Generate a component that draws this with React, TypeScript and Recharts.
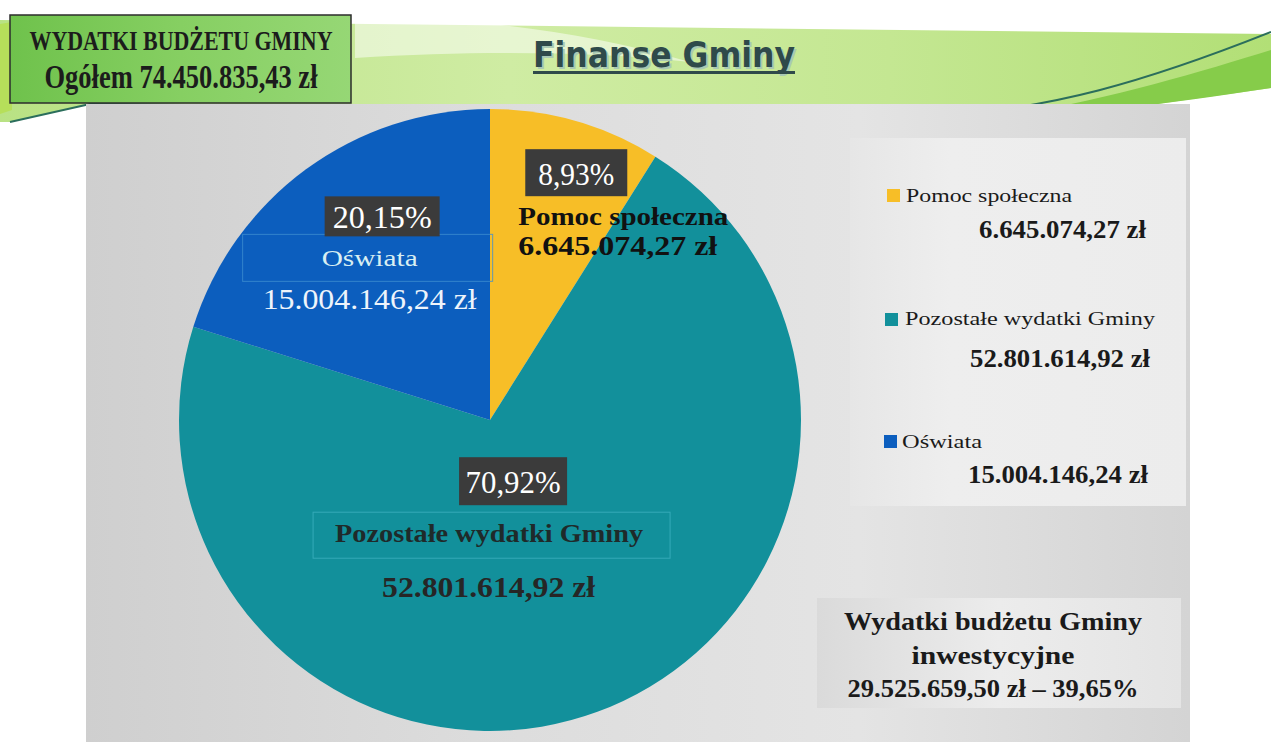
import React from 'react';
import { PieChart, Pie, Cell, Legend } from 'recharts';

const categories = ['Pomoc społeczna', 'Pozostałe wydatki Gminy', 'Oświata'];
const amounts = [6645074.27, 52801614.92, 15004146.24];
const amountLabels = ['6.645.074,27 zł', '52.801.614,92 zł', '15.004.146,24 zł'];
const percentLabels = ['8,93%', '70,92%', '20,15%'];
const sliceColors = ['#F7BE27', '#12909B', '#0C5EBE'];

const titleLine1 = 'WYDATKI BUDŻETU GMINY';
const titleLine2 = 'Ogółem 74.450.835,43 zł';
const headerText = 'Finanse Gminy';
const investLines = ['Wydatki budżetu Gminy', 'inwestycyjne', '29.525.659,50 zł – 39,65%'];

const W = 1271;
const H = 754;
const SERIF = "'Liberation Serif', 'DejaVu Serif', serif";
const SANS = "'DejaVu Sans', 'Liberation Sans', sans-serif";

const data = categories.map((name, i) => ({ name, value: amounts[i] }));

// label layout: anchor (percentage box centre) as fraction of the radius, then offsets in px
const LABEL_LAYOUT = [
  {
    ax: 0.2774, ay: -0.7952, boxW: 102, boxH: 47, pctBase: 12.5, pctLen: 76, pctSize: 32,
    outline: null,
    nameAnchor: 'start', nameX: -58, nameY: 52, nameLen: 210, nameSize: 25, nameColor: '#111', nameWeight: 'bold',
    valX: -58, valY: 82, valLen: 199, valSize: 28, valColor: '#111', valWeight: 'bold',
  },
  {
    ax: 0.0742, ay: 0.1968, boxW: 108, boxH: 48, pctBase: 12, pctLen: 95, pctSize: 31,
    outline: { x: -200, y: 31, w: 357, h: 46, stroke: '#3fb0bf' },
    nameAnchor: 'middle', nameX: -24, nameY: 61, nameLen: 308, nameSize: 26, nameColor: '#1f2a2a', nameWeight: 'bold',
    valX: -24.5, valY: 116, valLen: 213, valSize: 29, valColor: '#262626', valWeight: 'bold',
  },
  {
    ax: -0.3468, ay: -0.6548, boxW: 115, boxH: 40, pctBase: 12, pctLen: 99, pctSize: 31,
    outline: { x: -139.5, y: 18, w: 250, h: 47, stroke: '#3f8fd0' },
    nameAnchor: 'middle', nameX: -12.5, nameY: 50, nameLen: 96, nameSize: 23, nameColor: '#d9eef2', nameWeight: 'normal',
    valX: -12.5, valY: 93, valLen: 214, valSize: 30, valColor: '#eef4fb', valWeight: 'normal',
  },
];

const renderLabel = (props: any) => {
  const { cx, cy, outerRadius } = props;
  let index = props.index;
  if (index === undefined || index === null) index = categories.indexOf(props.name);
  const L = LABEL_LAYOUT[index];
  if (!L) return null;
  const x = cx + L.ax * outerRadius;
  const y = cy + L.ay * outerRadius;
  return (
    <g>
      {L.outline && (
        <rect x={x + L.outline.x} y={y + L.outline.y} width={L.outline.w} height={L.outline.h}
          fill="none" stroke={L.outline.stroke} strokeWidth={1} opacity={0.8} />
      )}
      <rect x={x - L.boxW / 2} y={y - L.boxH / 2} width={L.boxW} height={L.boxH} fill="#3b3b3b" />
      <text x={x} y={y + L.pctBase} textAnchor="middle" style={{ fontFamily: SERIF }} fontSize={L.pctSize}
        fill="#ffffff" textLength={L.pctLen} lengthAdjust="spacingAndGlyphs">{percentLabels[index]}</text>
      <text x={x + L.nameX} y={y + L.nameY} textAnchor={L.nameAnchor} style={{ fontFamily: SERIF }} fontSize={L.nameSize}
        fontWeight={L.nameWeight} fill={L.nameColor} textLength={L.nameLen} lengthAdjust="spacingAndGlyphs">
        {categories[index]}
      </text>
      <text x={x + L.valX} y={y + L.valY} textAnchor={L.nameAnchor} style={{ fontFamily: SERIF }} fontSize={L.valSize}
        fontWeight={L.valWeight} fill={L.valColor} textLength={L.valLen} lengthAdjust="spacingAndGlyphs">
        {amountLabels[index]}
      </text>
    </g>
  );
};

const LEGEND_ROWS = [
  { sqX: 887, sqY: 189, nameX: 906, nameY: 202, nameLen: 166, valX: 1146, valY: 238, valLen: 167 },
  { sqX: 885, sqY: 313, nameX: 905, nameY: 325, nameLen: 250, valX: 1150, valY: 367, valLen: 180 },
  { sqX: 884, sqY: 435, nameX: 902, nameY: 448, nameLen: 80, valX: 1148, valY: 483, valLen: 180 },
];

const LegendContent = () => (
  <svg width={W} height={H} style={{ position: 'absolute', left: 0, top: 0, pointerEvents: 'none' }}>
    {categories.map((name, i) => {
      const r = LEGEND_ROWS[i];
      return (
        <g key={name}>
          <rect x={r.sqX} y={r.sqY} width={13} height={13} fill={sliceColors[i]} />
          <text x={r.nameX} y={r.nameY} style={{ fontFamily: SERIF }} fontSize={19} fill="#1a1a1a"
            textLength={r.nameLen} lengthAdjust="spacingAndGlyphs">{name}</text>
          <text x={r.valX} y={r.valY} textAnchor="end" style={{ fontFamily: SERIF }} fontSize={25} fontWeight="bold"
            fill="#1a1a1a" textLength={r.valLen} lengthAdjust="spacingAndGlyphs">{amountLabels[i]}</text>
        </g>
      );
    })}
  </svg>
);

const Background = () => (
  <svg width={W} height={H} style={{ position: 'absolute', left: 0, top: 0 }}>
    <defs>
      <linearGradient id="bannerG" x1="0" y1="0" x2="1" y2="0">
        <stop offset="0" stopColor="#b9e284" />
        <stop offset="0.4" stopColor="#cfeca3" />
        <stop offset="0.7" stopColor="#c4e792" />
        <stop offset="1" stopColor="#b2df76" />
      </linearGradient>
      <linearGradient id="panelG" x1="0" y1="0" x2="1" y2="0">
        <stop offset="0" stopColor="#cfcfcf" />
        <stop offset="0.35" stopColor="#dcdcdc" />
        <stop offset="0.7" stopColor="#e4e4e4" />
        <stop offset="1" stopColor="#d4d4d4" />
      </linearGradient>
      <linearGradient id="legendG" x1="0" y1="0" x2="1" y2="0">
        <stop offset="0" stopColor="#e6e6e6" />
        <stop offset="0.3" stopColor="#eeeeee" />
        <stop offset="1" stopColor="#ececec" />
      </linearGradient>
      <linearGradient id="boxG" x1="0" y1="0" x2="1" y2="0">
        <stop offset="0" stopColor="#6fc24c" />
        <stop offset="0.5" stopColor="#86cf62" />
        <stop offset="1" stopColor="#96d775" />
      </linearGradient>
      <linearGradient id="investG" x1="0" y1="0" x2="1" y2="0">
        <stop offset="0" stopColor="#dadada" />
        <stop offset="0.5" stopColor="#ececec" />
        <stop offset="1" stopColor="#e4e4e4" />
      </linearGradient>
    </defs>
    <rect x={0} y={0} width={W} height={H} fill="#ffffff" />
    {/* banner */}
    <path d="M 0 20 L 1271 34 L 1271 88 C 1150 105 1080 116 1000 117 L 640 110 L 90 104 L 10 122 L 0 122 Z" fill="url(#bannerG)" />
    <path d="M 355 16 C 470 18 580 30 690 62 C 600 52 480 50 355 58 Z" fill="#ffffff" opacity={0.5} />
    <path d="M 1000 117 C 1100 102 1200 72 1271 50 L 1271 88 C 1150 106 1080 115 1000 117 Z" fill="#86cc4a" />
    <path d="M 10 122 L 90 104 C 400 106 800 119 922 117 C 1050 111 1150 80 1271 32" fill="none" stroke="#2b6e5c" strokeWidth={2} />
    <path d="M 0 24 L 12 22 L 12 110 L 0 114 Z" fill="#b6df5a" />
    {/* grey panel */}
    <rect x={86} y={104} width={1104} height={638} fill="url(#panelG)" />
    <rect x={850} y={138} width={336} height={368} fill="url(#legendG)" />
    <rect x={817} y={598} width={364} height={110} fill="url(#investG)" />
    {/* title box */}
    <rect x={10} y={15} width={341} height={88} fill="url(#boxG)" stroke="#2d2d2d" strokeWidth={1.5} />
    <text x={181} y={50} textAnchor="middle" style={{ fontFamily: SERIF }} fontSize={27} fontWeight="bold" fill="#1c1c1c"
      textLength={303} lengthAdjust="spacingAndGlyphs">{titleLine1}</text>
    <text x={181} y={88} textAnchor="middle" style={{ fontFamily: SERIF }} fontSize={33} fontWeight="bold" fill="#1c1c1c"
      textLength={273} lengthAdjust="spacingAndGlyphs">{titleLine2}</text>
    {/* header */}
    <text x={535} y={69} style={{ fontFamily: SANS }} fontSize={36} fontWeight="bold" fill="#a9c9b4"
      textLength={262} lengthAdjust="spacingAndGlyphs">{headerText}</text>
    <text x={533} y={67} style={{ fontFamily: SANS }} fontSize={36} fontWeight="bold" fill="#2f4a4a"
      textLength={262} lengthAdjust="spacingAndGlyphs">{headerText}</text>
    <rect x={533} y={71} width={262} height={3} fill="#2f4a4a" />
    {/* investment box text */}
    {investLines.map((t, i) => (
      <text key={t} x={993} y={630 + i * 33.5} textAnchor="middle" style={{ fontFamily: SERIF }} fontSize={26}
        fontWeight="bold" fill="#1a1a1a" textLength={[298, 163, 291][i]} lengthAdjust="spacingAndGlyphs">{t}</text>
    ))}
  </svg>
);

export default function App() {
  return (
    <div style={{ position: 'absolute', left: 0, top: 0, width: W, height: H, overflow: 'hidden', background: '#fff' }}>
      <Background />
      <div style={{ position: 'absolute', left: 0, top: 0 }}>
        <PieChart width={W} height={H} margin={{ top: 0, right: 0, bottom: 0, left: 0 }}>
          <Pie
            data={data}
            dataKey="value"
            nameKey="name"
            cx={490}
            cy={420}
            outerRadius={311}
            startAngle={90}
            endAngle={-270}
            stroke="none"
            label={renderLabel}
            labelLine={false}
            isAnimationActive={false}
          >
            {data.map((d, i) => (
              <Cell key={d.name} fill={sliceColors[i]} />
            ))}
          </Pie>
          <Legend
            layout="horizontal"
            verticalAlign="middle"
            align="center"
            content={() => <LegendContent />}
            wrapperStyle={{ position: 'absolute', left: 0, top: 0, width: W, height: H, pointerEvents: 'none' }}
          />
        </PieChart>
      </div>
    </div>
  );
}
